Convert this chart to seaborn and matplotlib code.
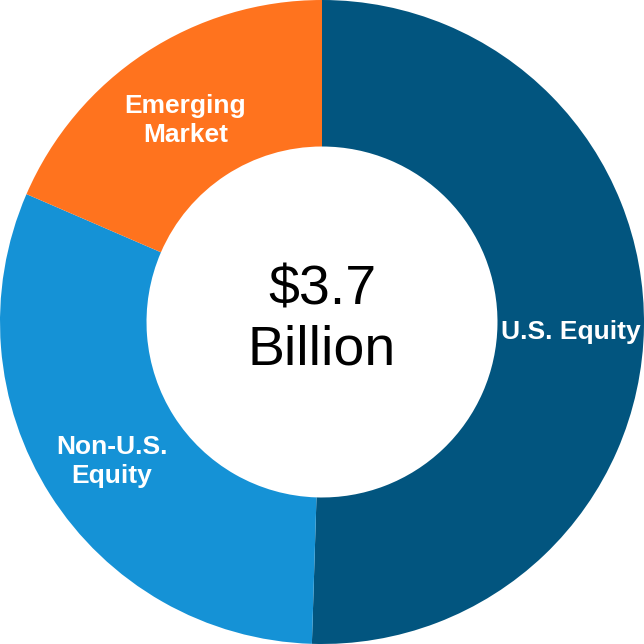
import matplotlib
matplotlib.use("Agg")
import matplotlib.pyplot as plt
import numpy as np
import seaborn as sns

labels = ["U.S. Equity", "Non-U.S.\nEquity", "Emerging\nMarket"]
shares = [50.5, 31.0, 18.5]
colors = ["#02557F", "#1592D6", "#FF731E"]
center_text = "$3.7\nBillion"

sns.set_theme(style="white")
plt.rcParams["font.family"] = ["Liberation Sans", "DejaVu Sans"]

fig = plt.figure(figsize=(6.44, 6.44), dpi=100)
ax = fig.add_axes([0, 0, 1, 1])

inner = 0.545
wedges, _ = ax.pie(shares, colors=colors, startangle=90, counterclock=False,
                   radius=1.0, wedgeprops=dict(width=1 - inner, linewidth=0))

# labels at the middle of the ring, centered (nudged down a little)
label_r = (1 + inner) / 2
cum = np.cumsum([0] + shares)
total = sum(shares)
for lab, a0, a1 in zip(labels, cum[:-1], cum[1:]):
    mid = np.deg2rad(90 - 360 * (a0 + a1) / 2 / total)
    ax.text(label_r * np.cos(mid), label_r * np.sin(mid) - 0.02, lab,
            ha="center", va="center", color="white", fontsize=19,
            fontweight="bold", linespacing=1.28)

ax.text(0, 0.005, center_text, ha="center", va="center", fontsize=40,
        color="black", linespacing=1.2)

ax.set_xlim(-1, 1)
ax.set_ylim(-1, 1)
ax.set_aspect("equal")
ax.axis("off")

fig.savefig("out.png", dpi=100)
